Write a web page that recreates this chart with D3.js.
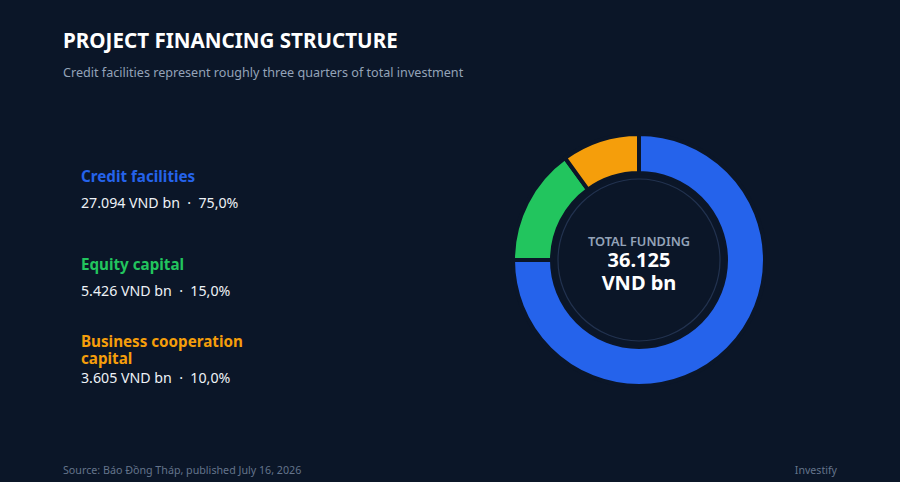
<!DOCTYPE html>
<html>
<head>
<meta charset="utf-8">
<script src="https://cdn.jsdelivr.net/npm/d3@7"></script>
<style>
  body { margin: 0; background: #0b1628; }
  svg { display: block; font-family: "Noto Sans", sans-serif; }
  text { white-space: pre; }
</style>
</head>
<body>
<div id="chart"></div>
<script>
// data
var categories = ["Credit facilities", "Equity capital", "Business cooperation capital"];
var values = [27094, 5426, 3605];
var shares = [75.0, 15.0, 10.0];
var colors = ["#2563eb", "#22c55e", "#f59e0b"];
var totalLabel = "36.125";

var width = 900, height = 482;

var svg = d3.select("#chart")
    .append("svg")
    .attr("width", width)
    .attr("height", height);

svg.append("rect")
    .attr("width", width)
    .attr("height", height)
    .attr("fill", "#0b1628");

// title + subtitle
svg.append("text")
    .attr("x", 63).attr("y", 48)
    .attr("fill", "#ffffff")
    .attr("font-size", 20.6)
    .attr("font-weight", 700)
    .text("PROJECT FINANCING STRUCTURE");

svg.append("text")
    .attr("x", 63).attr("y", 77)
    .attr("fill", "#94a3b8")
    .attr("font-size", 12.6)
    .text("Credit facilities represent roughly three quarters of total investment");

// number formatting with dot thousands / comma decimals
var locale = d3.formatLocale({ decimal: ",", thousands: ".", grouping: [3], currency: ["", ""] });
var fmtVal = locale.format(",d");
var fmtPct = locale.format(".1f");

// legend block on the left
var legendTop = [182, 270, 347];
var legend = svg.append("g");

categories.forEach(function(c, i) {
    var g = legend.append("g");
    var lines = i === 2 ? ["Business cooperation", "capital"] : [c];
    lines.forEach(function(l, j) {
        g.append("text")
            .attr("x", 81)
            .attr("y", legendTop[i] + j * 17)
            .attr("fill", colors[i])
            .attr("font-size", 15.2)
            .attr("font-weight", 700)
            .text(l);
    });
    g.append("text")
        .attr("x", 81)
        .attr("y", legendTop[i] + (lines.length - 1) * 17 + (i === 2 ? 19 : 26))
        .attr("fill", "#eef2f7")
        .attr("font-size", 14.2)
        .text(fmtVal(values[i]) + " VND bn  \u00B7  " + fmtPct(shares[i]) + "%");
});

// donut
var cx = 639, cy = 260;
var outerR = 126, innerR = 87;

var pie = d3.pie().sort(null).value(function(d) { return d; });
var arc = d3.arc().innerRadius(innerR).outerRadius(outerR);

var donut = svg.append("g")
    .attr("transform", "translate(" + cx + "," + cy + ")");

donut.selectAll("path")
    .data(pie(values))
    .enter()
    .append("path")
    .attr("d", arc)
    .attr("fill", function(d, i) { return colors[i]; })
    .attr("stroke", "#0b1628")
    .attr("stroke-width", 4)
    .attr("stroke-linejoin", "miter");

// inner circle + ring
donut.append("circle")
    .attr("r", innerR - 1)
    .attr("fill", "#0b1628");

donut.append("circle")
    .attr("r", 81)
    .attr("fill", "none")
    .attr("stroke", "#22324f")
    .attr("stroke-width", 1.2);

donut.append("text")
    .attr("y", -14)
    .attr("text-anchor", "middle")
    .attr("fill", "#94a3b8")
    .attr("font-size", 12.8)
    .attr("font-weight", 600)
    .text("TOTAL FUNDING");

donut.append("text")
    .attr("y", 7)
    .attr("text-anchor", "middle")
    .attr("fill", "#ffffff")
    .attr("font-size", 20)
    .attr("font-weight", 700)
    .text(totalLabel);

donut.append("text")
    .attr("y", 30)
    .attr("text-anchor", "middle")
    .attr("fill", "#ffffff")
    .attr("font-size", 20)
    .attr("font-weight", 700)
    .text("VND bn");

// footer
svg.append("text")
    .attr("x", 63).attr("y", 474)
    .attr("fill", "#64748b")
    .attr("font-size", 10.7)
    .text("Source: B\u00E1o \u0110\u1ED3ng Th\u00E1p, published July 16, 2026");

svg.append("text")
    .attr("x", 837).attr("y", 474)
    .attr("text-anchor", "end")
    .attr("fill", "#64748b")
    .attr("font-size", 10.6)
    .text("Investify");
</script>
</body>
</html>
